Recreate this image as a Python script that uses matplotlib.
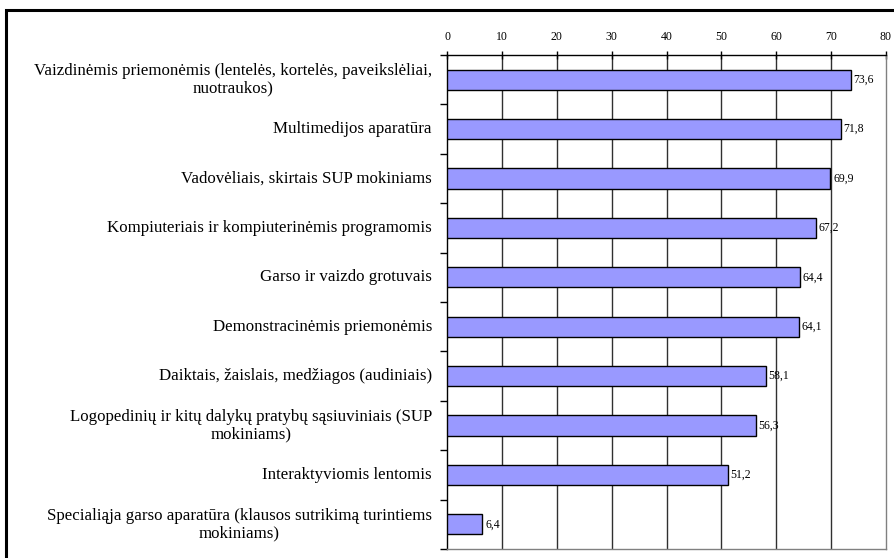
import matplotlib
matplotlib.use("Agg")
import matplotlib.pyplot as plt
from matplotlib.patches import Rectangle

categories = [
    "Vaizdinėmis priemonėmis (lentelės, kortelės, paveikslėliai,\nnuotraukos)",
    "Multimedijos aparatūra",
    "Vadovėliais, skirtais SUP mokiniams",
    "Kompiuteriais ir kompiuterinėmis programomis",
    "Garso ir vaizdo grotuvais",
    "Demonstracinėmis priemonėmis",
    "Daiktais, žaislais, medžiagos (audiniais)",
    "Logopedinių ir kitų dalykų pratybų sąsiuviniais (SUP\nmokiniams)",
    "Interaktyviomis lentomis",
    "Specialiąja garso aparatūra (klausos sutrikimą turintiems\nmokiniams)",
]
values = [73.6, 71.8, 69.9, 67.2, 64.4, 64.1, 58.1, 56.3, 51.2, 6.4]
x_ticks = [0, 10, 20, 30, 40, 50, 60, 70, 80]

plt.rcParams["font.family"] = ["Liberation Serif", "DejaVu Serif"]

fig = plt.figure(figsize=(8.94, 5.58), dpi=100)
ax = fig.add_axes([447.3 / 894, 9 / 558, (885.7 - 447.3) / 894, (549 - 55) / 558])

n = len(categories)
ypos = list(range(n))
ax.barh(ypos, values, height=0.405, color="#9999FF", edgecolor="black",
        linewidth=1.0, zorder=3)

for y, v in zip(ypos, values):
    ax.text(v + 0.5, y, f"{v:.1f}".replace(".", ","), va="center", ha="left",
            fontsize=8.5, zorder=4)

ax.set_xlim(0, 80)
ax.set_ylim(n - 0.5, -0.5)
ax.set_xticks(x_ticks)
ax.set_xticklabels([str(t) for t in x_ticks], fontsize=8.5)
ax.xaxis.tick_top()
ax.tick_params(axis="x", direction="inout", length=6, width=1, pad=6)

# category boundaries carry the y ticks; labels sit at the category centres
ax.set_yticks([i - 0.5 for i in range(n + 1)])
ax.set_yticklabels([])
ax.tick_params(axis="y", direction="out", length=5, width=1)
for y, lab in zip(ypos, categories):
    ax.text(-2.8, y, lab, ha="right", va="center", multialignment="center",
            fontsize=12.2, linespacing=1.12)

for t in x_ticks[1:-1]:
    ax.axvline(t, color="#303030", linewidth=1.0, zorder=1)

ax.spines["top"].set_color("black")
ax.spines["left"].set_color("black")
ax.spines["right"].set_color("#808080")
ax.spines["bottom"].set_color("#808080")
for s in ax.spines.values():
    s.set_linewidth(1.0)

# outer frame of the figure
fig.patches.append(Rectangle((6 / 894, -0.1), 1.2, (558 - 10) / 558 + 0.1,
                             transform=fig.transFigure, fill=False,
                             edgecolor="black", linewidth=2.2))

fig.savefig("out.png", dpi=100)
